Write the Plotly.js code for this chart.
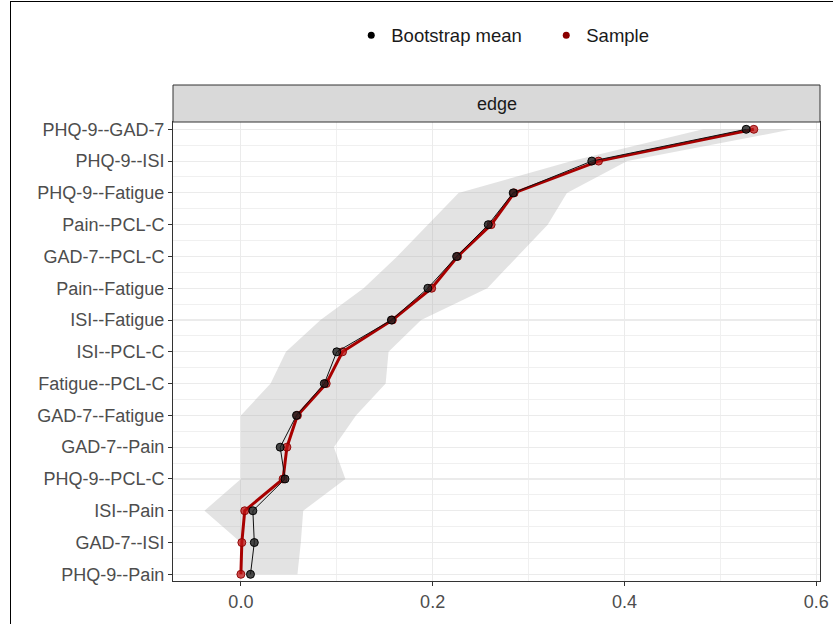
<!DOCTYPE html>
<html>
<head>
<meta charset="utf-8">
<script src="https://cdn.plot.ly/plotly-3.0.1.min.js"></script>
<style>
html,body{margin:0;padding:0;background:#fff;}
#wrap{position:relative;width:833px;height:624px;}
#chart{position:absolute;left:0;top:0;width:833px;height:624px;}
#frame{position:absolute;left:10px;top:1px;width:823px;height:623px;border-left:1px solid #000;border-top:1px solid #000;pointer-events:none;}
</style>
</head>
<body>
<div id="wrap"><div id="chart"></div><div id="frame"></div></div>
<script>
// Edges listed top to bottom as in the chart
const edges = ["PHQ-9--GAD-7","PHQ-9--ISI","PHQ-9--Fatigue","Pain--PCL-C","GAD-7--PCL-C","Pain--Fatigue","ISI--Fatigue","ISI--PCL-C","Fatigue--PCL-C","GAD-7--Fatigue","GAD-7--Pain","PHQ-9--PCL-C","ISI--Pain","GAD-7--ISI","PHQ-9--Pain"];
const sampleVals = [0.535,0.373,0.285,0.261,0.226,0.199,0.158,0.106,0.089,0.059,0.048,0.044,0.004,0.001,0.000];
const bootMean   = [0.527,0.366,0.284,0.258,0.225,0.195,0.157,0.100,0.087,0.058,0.041,0.046,0.0125,0.014,0.010];
const ciLower    = [0.482,0.345,0.227,0.195,0.163,0.128,0.083,0.047,0.031,0.000,0.000,0.000,-0.038,0.000,0.000];
const ciUpper    = [0.575,0.403,0.340,0.320,0.288,0.257,0.188,0.154,0.151,0.120,0.097,0.109,0.065,0.0625,0.059];
const xTicks = [0.0,0.2,0.4,0.6];
const xTickText = ["0.0","0.2","0.4","0.6"];

const n = edges.length;
const pos = edges.map((e,i)=>n-1-i);

const band = {
  x: ciLower.concat(ciUpper.slice().reverse()),
  y: pos.concat(pos.slice().reverse()),
  type:'scatter', mode:'lines', fill:'toself',
  fillcolor:'rgba(170,170,170,0.33)', line:{width:0},
  hoverinfo:'skip', showlegend:false
};
const sampleTrace = {
  x: sampleVals, y: pos, type:'scatter', mode:'lines+markers', name:'Sample',
  line:{color:'#a80000', width:3},
  marker:{color:'rgba(190,20,20,0.75)', size:8, line:{color:'rgba(139,0,0,0.9)',width:1}},
  showlegend:false
};
const bootTrace = {
  x: bootMean, y: pos, type:'scatter', mode:'lines+markers', name:'Bootstrap mean',
  line:{color:'#111', width:1},
  marker:{color:'rgba(30,30,30,0.8)', size:8, line:{color:'#000',width:1}},
  showlegend:false
};
// legend keys (points only, as in the reference legend)
const legBoot = {x:[null], y:[null], type:'scatter', mode:'markers', name:'Bootstrap mean',
  marker:{color:'#000', size:7}, showlegend:true, legendrank:1};
const legSample = {x:[null], y:[null], type:'scatter', mode:'markers', name:'Sample',
  marker:{color:'#8b0000', size:7}, showlegend:true, legendrank:2};

const plotH = 459;
const layout = {
  width:833, height:624,
  margin:{l:173, r:13, t:122, b:43, pad:0},
  paper_bgcolor:'#fff', plot_bgcolor:'#fff',
  font:{family:'Liberation Sans, Arial, sans-serif', color:'#4d4d4d'},
  showlegend:true,
  legend:{orientation:'h', x:0.2755, xanchor:'left', y:1.188, yanchor:'middle',
          font:{size:18.5, color:'#1a1a1a'}, traceorder:'normal',
          entrywidth:150, entrywidthmode:'pixels',
          bgcolor:'rgba(0,0,0,0)'},
  xaxis:{
    range:[-0.0708,0.604], tickmode:'array', tickvals:xTicks, ticktext:xTickText,
    showgrid:true, gridcolor:'#ebebeb', gridwidth:1.2, zeroline:false,
    minor:{tickmode:'linear', tick0:0.1, dtick:0.2, showgrid:true, gridcolor:'#f0f0f0', gridwidth:1, ticks:''},
    showline:true, mirror:true, linecolor:'#333', linewidth:1,
    ticks:'outside', ticklen:4, tickcolor:'#333', tickwidth:1,
    tickfont:{size:18, color:'#4d4d4d'}
  },
  yaxis:{
    range:[-0.21,14.23], tickmode:'array', tickvals:pos, ticktext:edges,
    showgrid:true, gridcolor:'#ebebeb', gridwidth:1.2, zeroline:false,
    minor:{tickmode:'linear', tick0:0.5, dtick:1, showgrid:true, gridcolor:'#f0f0f0', gridwidth:1, ticks:''},
    showline:true, mirror:true, linecolor:'#333', linewidth:1,
    ticks:'outside', ticklen:4, tickcolor:'#333', tickwidth:1,
    tickfont:{size:18, color:'#4d4d4d'}
  },
  shapes:[{type:'rect', xref:'paper', yref:'paper', x0:0, x1:1, y0:1, y1:1+37/plotH,
           fillcolor:'#d9d9d9', line:{color:'#333', width:1}}],
  annotations:[{xref:'paper', yref:'paper', x:0.5, y:1+18.5/plotH, text:'edge', showarrow:false,
                xanchor:'center', yanchor:'middle', font:{size:18, color:'#1a1a1a'}}]
};
Plotly.newPlot('chart',[band, sampleTrace, bootTrace, legBoot, legSample], layout, {displayModeBar:false, staticPlot:true});
</script>
</body>
</html>
